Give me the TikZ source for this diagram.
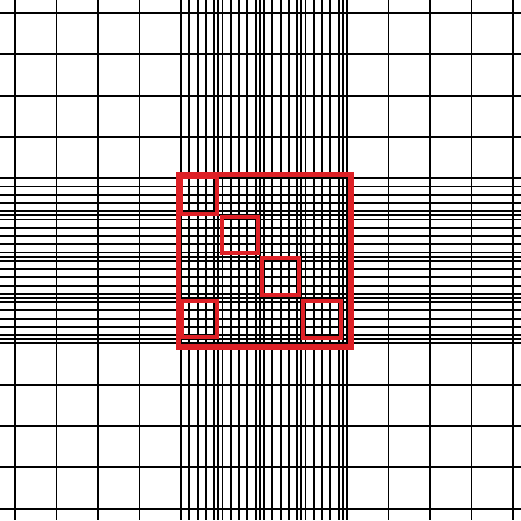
\documentclass[tikz,border=0pt]{standalone}
\definecolor{boxred}{RGB}{222,32,38}
\tikzset{
  gridline/.style={black, line width=1.9pt},
  outerbox/.style={draw=boxred, line width=5.8pt},
  innerbox/.style={draw=boxred, line width=4pt}
}
\begin{document}
\begin{tikzpicture}[x=1pt,y=-1pt]
\useasboundingbox (0,0) rectangle (521,520);
% coarse vertical and horizontal lines
\foreach \k in {0,...,12} {
  \draw[gridline] ({15+41.5*\k},0) -- ({15+41.5*\k},520);
  \draw[gridline] (0,{13+41.3*\k}) -- (521,{13+41.3*\k});
}
% dense lines in the middle band
\foreach \k in {4,...,7} {
  \foreach \f in {0.2,0.4,0.6,0.8,0.9} {
    \draw[gridline] ({15+41.5*(\k+\f)},0) -- ({15+41.5*(\k+\f)},520);
    \draw[gridline] (0,{13+41.3*(\k+\f)}) -- (521,{13+41.3*(\k+\f)});
  }
}
% red blocks
\draw[innerbox] (181,177) rectangle (217,214);
\draw[innerbox] (221.7,217) rectangle (258,252.5);
\draw[innerbox] (262,258.3) rectangle (298.7,294.7);
\draw[innerbox] (302.8,301.3) rectangle (340.5,338);
\draw[innerbox] (182,301.3) rectangle (217,337);
\draw[outerbox] (178.5,174.5) rectangle (350.7,347);
\end{tikzpicture}
\end{document}
